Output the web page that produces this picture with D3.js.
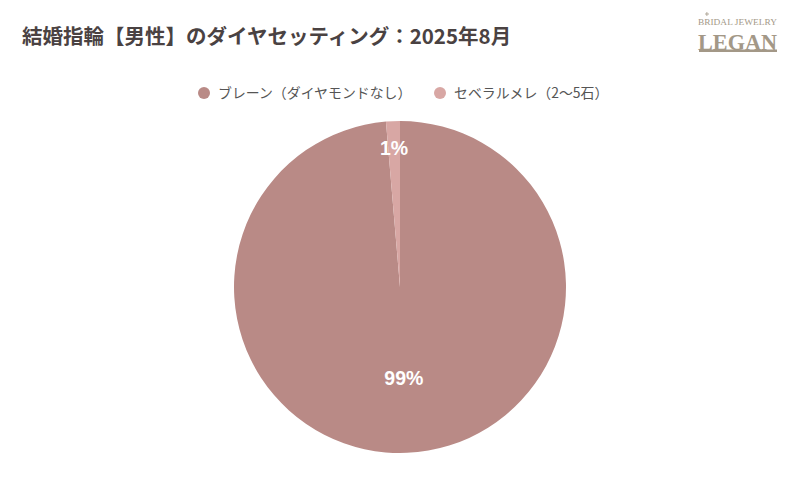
<!DOCTYPE html>
<html><head><meta charset="utf-8">
<script src="https://cdn.jsdelivr.net/npm/d3@7"></script>
<style>body{margin:0;background:#fff;}svg{display:block;}</style>
</head><body>
<svg id="c" width="800" height="500"></svg>
<script>
const categories = ["ブレーン（ダイヤモンドなし）", "セベラルメレ（2〜5石）"];
const values = [98.65, 1.35];
const labels = ["99%", "1%"];
const colors = ["#b98a86", "#d8a7a4"];
const title = "結婚指輪【男性】のダイヤセッティング：2025年8月";

const svg = d3.select("#c");
const font = "'Noto Sans CJK JP', 'Noto Sans', sans-serif";

svg.append("text").attr("x", 22).attr("y", 44).text(title)
  .attr("font-family", font).attr("font-size", 20.5).attr("font-weight", "bold").attr("fill", "#4a4242");

// logo
const logo = svg.append("g").attr("fill", "#a39887");
logo.append("text").attr("x", 698).attr("y", 25)
  .attr("font-family", "'Liberation Serif', serif").attr("font-size", 9)
  .attr("textLength", 79).attr("lengthAdjust", "spacingAndGlyphs")
  .text("BRIDAL JEWELRY");
logo.append("text").attr("x", 698).attr("y", 50)
  .attr("font-family", "'Liberation Serif', serif").attr("font-size", 24).attr("font-weight", "bold")
  .attr("textLength", 79).attr("lengthAdjust", "spacingAndGlyphs")
  .text("LEGAN");
logo.append("rect").attr("x", 699).attr("y", 49.5).attr("width", 78).attr("height", 2.5);
logo.append("rect").attr("x", 706.5).attr("y", 12).attr("width", 0.8).attr("height", 4);
logo.append("rect").attr("x", 705).attr("y", 13.6).attr("width", 4).attr("height", 0.8);

// legend
const legX = [204, 440];
const lg = svg.append("g").selectAll("g").data(categories).join("g")
  .attr("transform", (d, i) => `translate(${legX[i]},93)`);
lg.append("circle").attr("r", 6).attr("fill", (d, i) => colors[i]);
lg.append("text").attr("x", 14).attr("y", 5).text(d => d)
  .attr("font-family", font).attr("font-size", 13.9).attr("fill", "#555");

// pie
const cx = 400, cy = 287, R = 166;
const pie = d3.pie().sort(null).value(d => d)(values);
const arc = d3.arc().innerRadius(0).outerRadius(R);
const g = svg.append("g").attr("transform", `translate(${cx},${cy})`);
g.selectAll("path").data(pie).join("path").attr("d", arc)
  .attr("fill", (d, i) => colors[i]).attr("stroke", "none");
const labR = [0.55, 0.84];
g.selectAll("text.lab").data(pie).join("text").attr("class", "lab")
  .attr("transform", (d, i) => {
    const a = (d.startAngle + d.endAngle) / 2, r = R * labR[i];
    return `translate(${r * Math.sin(a)},${-r * Math.cos(a) + 7})`;
  })
  .attr("text-anchor", "middle").text((d, i) => labels[i])
  .attr("font-family", "'Liberation Sans', Arial, sans-serif").attr("font-size", 19.5).attr("font-weight", "bold").attr("fill", "#fff");
</script>
</body></html>
